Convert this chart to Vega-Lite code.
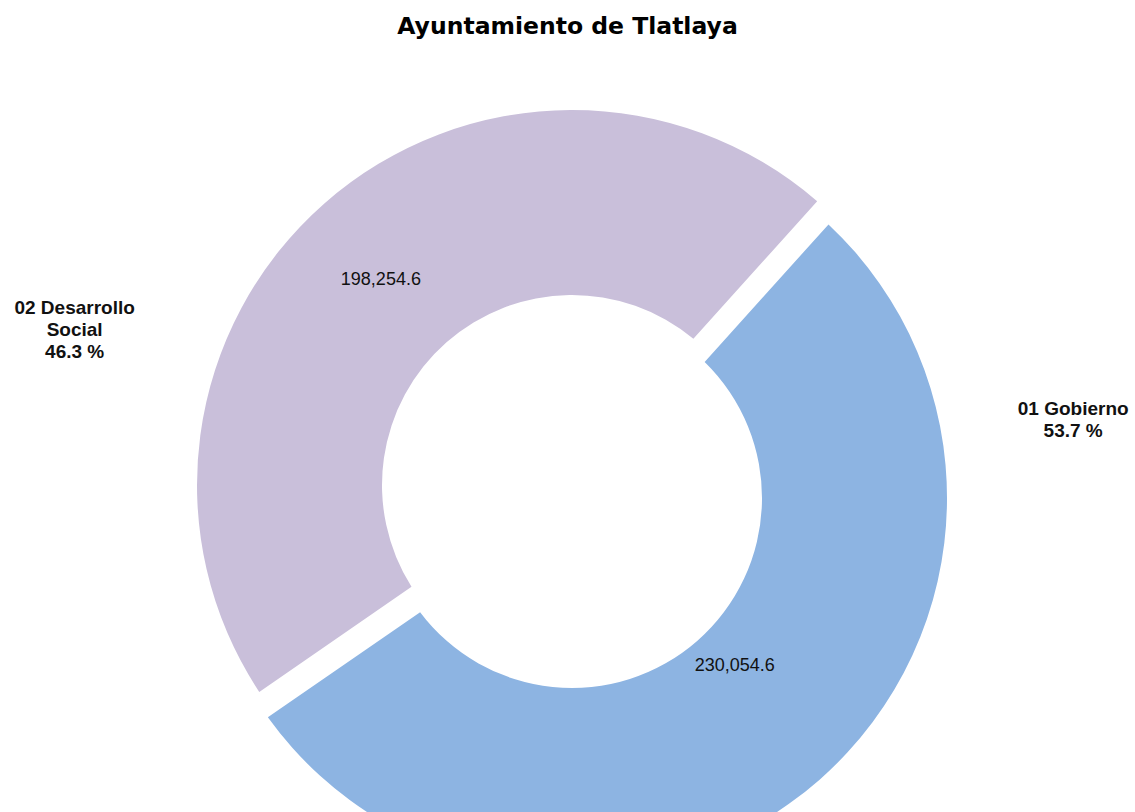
{
  "$schema": "https://vega.github.io/schema/vega-lite/v6.json",
  "width": 1135,
  "height": 812,
  "autosize": "none",
  "padding": 0,
  "background": "white",
  "title": {
    "text": "Ayuntamiento de Tlatlaya",
    "font": "DejaVu Sans",
    "fontSize": 23.5,
    "fontWeight": "bold",
    "color": "#000000",
    "anchor": "middle",
    "frame": "group",
    "orient": "top",
    "baseline": "alphabetic",
    "offset": -57
  },
  "config": {"view": {"stroke": null}},
  "data": {
    "values": [
      {"cat": "01 Gobierno", "value": 230054.6, "label": "01 Gobierno|53.7 %"},
      {"cat": "02 Desarrollo Social", "value": 198254.6, "label": "02 Desarrollo|Social|46.3 %"}
    ]
  },
  "encoding": {
    "theta": {"field": "value", "type": "quantitative", "stack": true, "scale": {"range": [0.733, 7.016]}},
    "order": {"field": "cat", "type": "nominal"}
  },
  "layer": [
    {
      "mark": {
        "type": "arc",
        "outerRadius": 375,
        "innerRadius": 190,
        "padAngle": 0.036,
        "x": 572,
        "y": {"expr": "datum.cat === '01 Gobierno' ? 498 : 485"}
      },
      "encoding": {
        "color": {
          "field": "cat",
          "type": "nominal",
          "scale": {"domain": ["01 Gobierno", "02 Desarrollo Social"], "range": ["#8DB4E2", "#C9BFDA"]},
          "legend": null
        }
      }
    },
    {
      "mark": {
        "type": "text",
        "font": "Liberation Sans",
        "fontSize": 18,
        "color": "#111111",
        "align": "center",
        "baseline": "middle",
        "x": 572,
        "y": {"expr": "datum.cat === '01 Gobierno' ? 498 : 485"},
        "radius": {"expr": "datum.cat === '01 Gobierno' ? 234 : 280"},
        "thetaOffset": {"expr": "datum.cat === '01 Gobierno' ? -0.048 : -0.03"}
      },
      "encoding": {
        "text": {"field": "value", "type": "quantitative", "format": ",.1f"}
      }
    },
    {
      "mark": {
        "type": "text",
        "font": "Liberation Sans",
        "fontSize": 19,
        "fontWeight": "bold",
        "color": "#111111",
        "align": "center",
        "baseline": "middle",
        "lineBreak": "|",
        "lineHeight": 22,
        "x": 572,
        "y": {"expr": "datum.cat === '01 Gobierno' ? 498 : 485"},
        "radius": {"expr": "datum.cat === '01 Gobierno' ? 509 : 528"},
        "thetaOffset": {"expr": "datum.cat === '01 Gobierno' ? -1.025 : -0.507"}
      },
      "encoding": {
        "text": {"field": "label", "type": "nominal"}
      }
    }
  ]
}
